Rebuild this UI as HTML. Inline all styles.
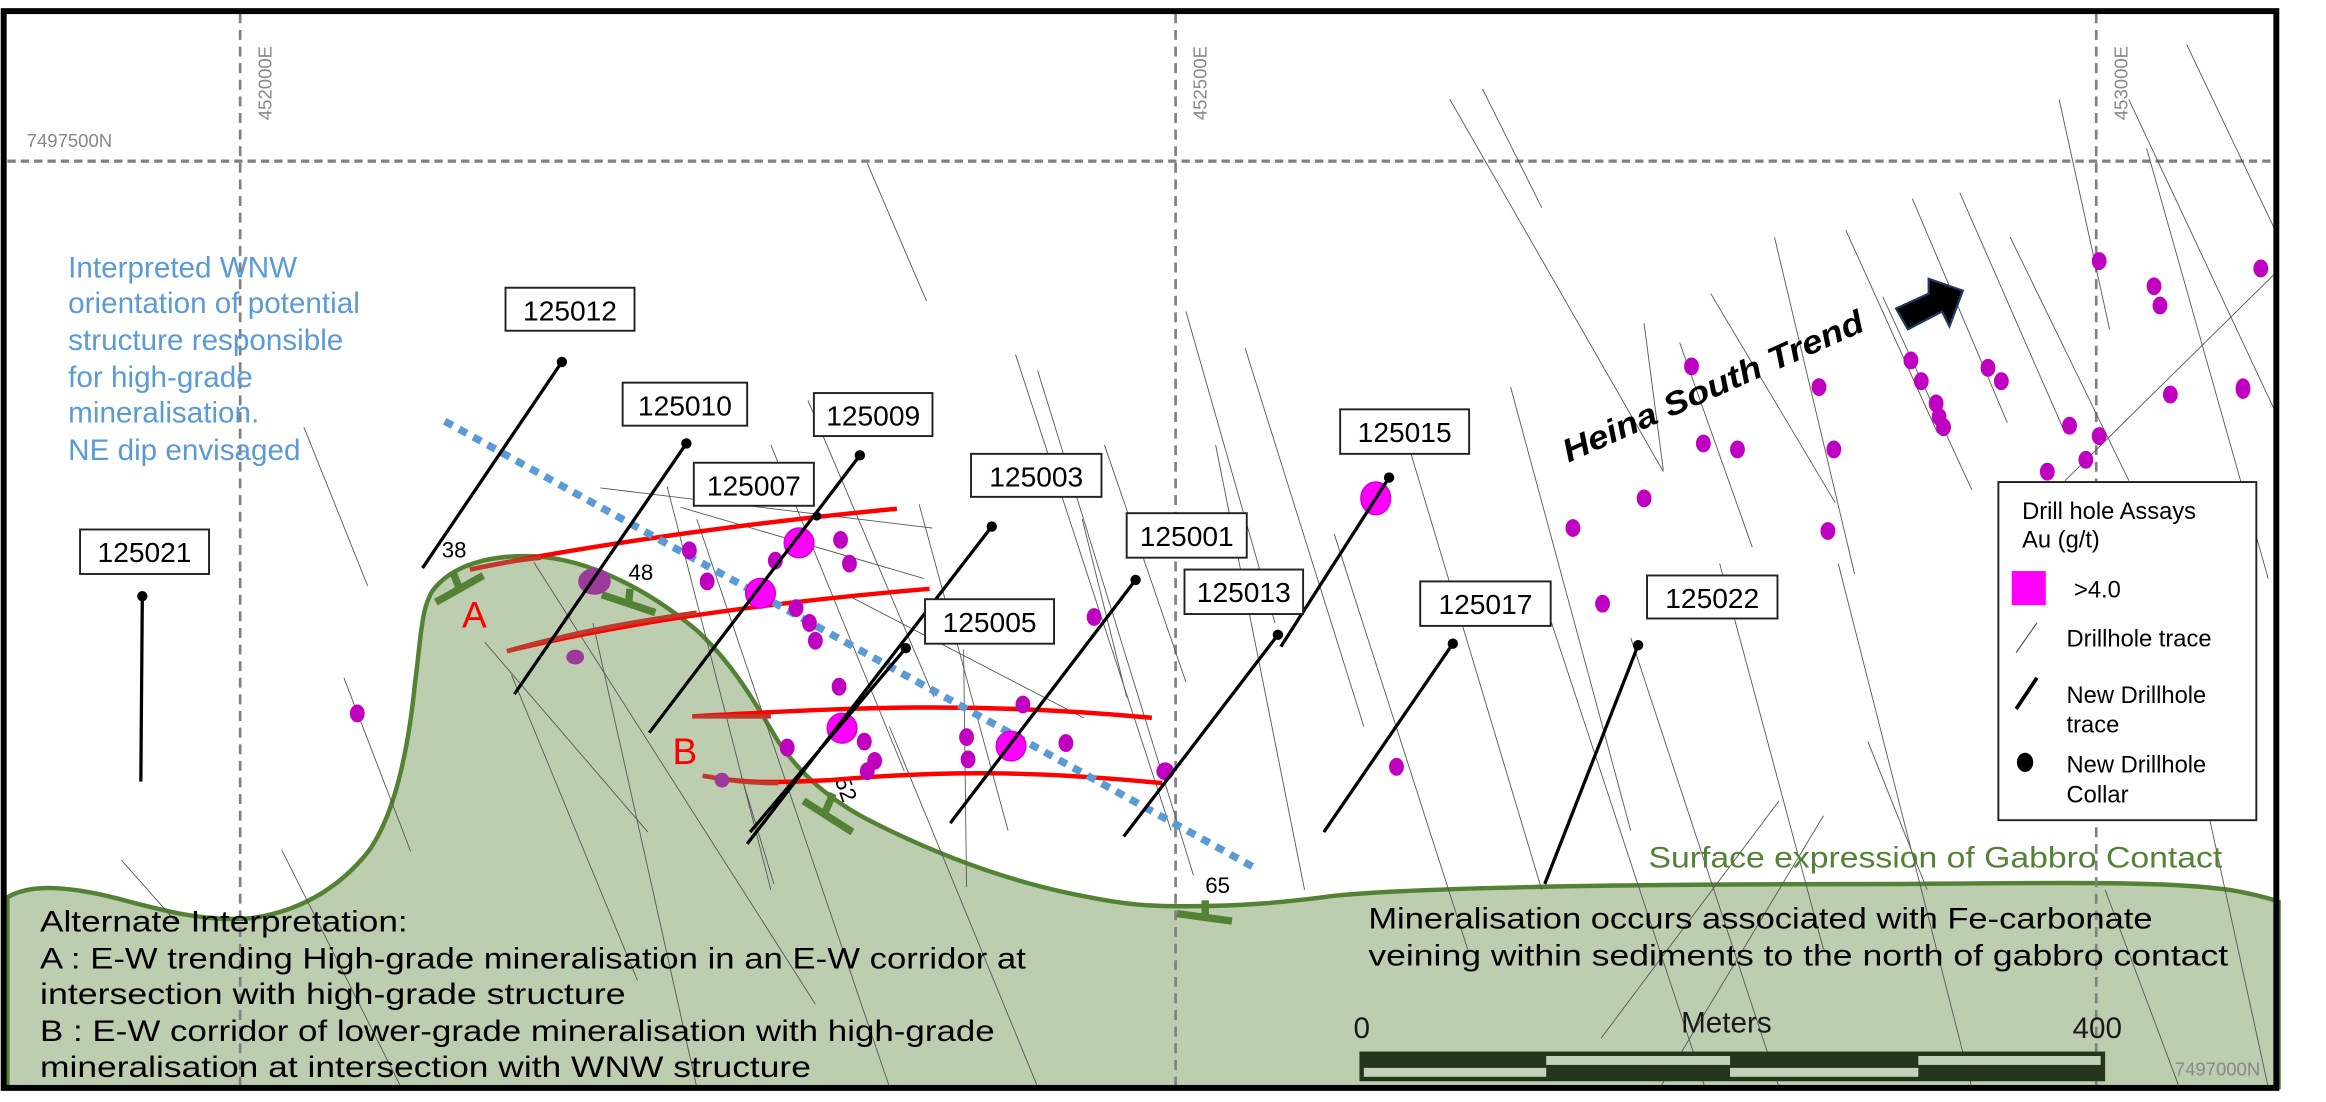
<!DOCTYPE html>
<html><head><meta charset="utf-8"><style>
html,body{margin:0;padding:0;background:#fff;}
svg{display:block;}
text{font-family:"Liberation Sans",sans-serif;}
</style></head><body>
<svg width="2326" height="1102" viewBox="0 0 1569 743" preserveAspectRatio="none" xmlns="http://www.w3.org/2000/svg">
<rect x="0" y="0" width="1569" height="743" fill="#fff"/>
<!-- gabbro -->
<path d="M5,605 C20,596 45,597 80,606 C110,614 140,622 170,619 C205,614 232,596 250,572 C268,545 276,500 280,460 C284,430 284,410 292,398 C305,381 330,374 360,375 C400,377 440,400 470,425 C495,448 510,475 525,500 C540,522 560,540 590,555 C630,575 680,595 735,605 C760,610 775,611 800,611 C840,611 870,608 900,604 C960,598 1100,596 1284,596 C1400,595 1470,594 1510,601 C1525,604 1532,606 1537,608 L1537,733 L5,733 Z" fill="#bccdb0" stroke="#548235" stroke-width="3"/>
<!-- grid -->
<g stroke="#808080" stroke-width="1.8" fill="none">
<line x1="162" y1="9" x2="162" y2="733" stroke-dasharray="6.7 4.5"/>
<line x1="793" y1="9" x2="793" y2="733" stroke-dasharray="6.7 4.5"/>
<line x1="1414" y1="9" x2="1414" y2="733" stroke-dasharray="6.7 4.5"/>
<line x1="5" y1="108.6" x2="1537" y2="108.6" stroke-width="2.2" stroke-dasharray="5.6 3.4"/>
</g>
<g fill="#888" font-size="12.5">
<text x="18" y="99">7497500N</text>
<text transform="translate(183,81) rotate(-90)">452000E</text>
<text transform="translate(814,81) rotate(-90)">452500E</text>
<text transform="translate(1435,81) rotate(-90)">453000E</text>
<text x="1467" y="725">7497000N</text>
</g>
<!-- thin drillhole traces -->
<g stroke="#555" stroke-width="0.6" fill="none">
<line x1="585" y1="110" x2="625" y2="203"/>
<line x1="685" y1="239" x2="790" y2="560"/>
<line x1="700" y1="250" x2="805" y2="590"/>
<line x1="205" y1="288" x2="248" y2="395"/>
<line x1="232" y1="457" x2="277" y2="574"/>
<line x1="327" y1="433" x2="437" y2="561"/>
<line x1="345" y1="455" x2="430" y2="661"/>
<line x1="190" y1="573" x2="270" y2="732"/>
<line x1="82" y1="580" x2="120" y2="623"/>
<line x1="360" y1="379" x2="550" y2="677"/>
<line x1="400" y1="420" x2="470" y2="733"/>
<line x1="500" y1="523" x2="522" y2="596"/>
<line x1="650" y1="438" x2="652" y2="598"/>
<line x1="405" y1="329" x2="629" y2="356"/>
<line x1="459" y1="342" x2="623" y2="390"/>
<line x1="573" y1="402" x2="731" y2="484"/>
<line x1="450" y1="328" x2="520" y2="600"/>
<line x1="520" y1="300" x2="610" y2="520"/>
<line x1="545" y1="270" x2="630" y2="470"/>
<line x1="470" y1="350" x2="600" y2="733"/>
<line x1="600" y1="490" x2="700" y2="733"/>
<line x1="620" y1="340" x2="680" y2="560"/>
<line x1="730" y1="350" x2="760" y2="470"/>
<line x1="745" y1="300" x2="800" y2="460"/>
<line x1="800" y1="210" x2="860" y2="420"/>
<line x1="840" y1="235" x2="920" y2="490"/>
<line x1="978" y1="67" x2="1122" y2="318"/>
<line x1="1019" y1="261" x2="1100" y2="560"/>
<line x1="1109" y1="218" x2="1122" y2="317"/>
<line x1="1133" y1="231" x2="1182" y2="369"/>
<line x1="1154" y1="198" x2="1238" y2="339"/>
<line x1="1197" y1="160" x2="1251" y2="387"/>
<line x1="1245" y1="155" x2="1307" y2="292"/>
<line x1="1290" y1="134" x2="1354" y2="285"/>
<line x1="1322" y1="130" x2="1393" y2="292"/>
<line x1="1356" y1="160" x2="1436" y2="324"/>
<line x1="1389" y1="67" x2="1423" y2="222"/>
<line x1="1436" y1="67" x2="1535" y2="278"/>
<line x1="1448" y1="100" x2="1530" y2="390"/>
<line x1="1475" y1="30" x2="1537" y2="160"/>
<line x1="1270" y1="200" x2="1330" y2="330"/>
<line x1="1393" y1="324" x2="1535" y2="184"/>
<line x1="1000" y1="60" x2="1040" y2="140"/>
<line x1="820" y1="300" x2="880" y2="600"/>
<line x1="900" y1="360" x2="990" y2="640"/>
<line x1="950" y1="300" x2="1040" y2="600"/>
<line x1="1040" y1="400" x2="1150" y2="733"/>
<line x1="1100" y1="430" x2="1200" y2="733"/>
<line x1="1160" y1="380" x2="1230" y2="640"/>
<line x1="1240" y1="380" x2="1330" y2="733"/>
<line x1="1260" y1="500" x2="1300" y2="600"/>
<line x1="1200" y1="540" x2="1080" y2="700"/>
<line x1="1230" y1="550" x2="1120" y2="733"/>
<line x1="1490" y1="550" x2="1530" y2="733"/>
<line x1="1420" y1="600" x2="1470" y2="733"/>
</g>
<!-- green strike/dip ticks -->
<g stroke="#548235" stroke-width="5" fill="none">
<line x1="294" y1="406" x2="326" y2="388"/><line x1="306" y1="387" x2="310" y2="397"/>
<line x1="406" y1="401" x2="442" y2="413"/><line x1="425" y1="397" x2="424" y2="407"/>
<line x1="542" y1="540" x2="575" y2="561"/><line x1="562" y1="535" x2="556" y2="549"/>
<line x1="794" y1="616" x2="831" y2="621"/><line x1="813" y1="607" x2="813" y2="618"/>
</g>
<g font-size="15" fill="#000">
<text x="298" y="376">38</text>
<text x="424" y="391">48</text>
<text transform="translate(563,526) rotate(70)">52</text>
<text x="813" y="602">65</text>
</g>
<!-- red lines -->
<g stroke="#ff0000" stroke-width="3" fill="none">
<path d="M317,384 C380,371 480,355 605,343"/>
<path d="M342,439 C420,420 520,406 627,397"/>
<path d="M467,483 C560,478 650,472 777,484"/>
<path d="M474,523 C500,528 520,528 560,526 C640,519 700,520 784,528"/>
</g>
<g stroke="#c0392b" stroke-width="3" fill="none">
<path d="M317,384 C340,379 355,377 365,376"/>
<path d="M342,439 C380,428 420,420 470,413"/>
<path d="M467,483 L520,483"/>
<path d="M474,523 C500,528 515,528 525,528"/>
</g>
<!-- blue dotted -->
<line x1="300" y1="284" x2="848" y2="586" stroke="#5b9bd5" stroke-width="5" stroke-dasharray="6 5"/>
<!-- magenta dots -->
<g fill="#c000c0">
<ellipse cx="241" cy="481" rx="5" ry="6"/>
<ellipse cx="465" cy="371" rx="5" ry="6"/><ellipse cx="477" cy="392" rx="5" ry="6"/>
<ellipse cx="523" cy="378" rx="5" ry="6"/><ellipse cx="567" cy="364" rx="5" ry="6"/>
<ellipse cx="573" cy="380" rx="5" ry="6"/><ellipse cx="537" cy="410" rx="5" ry="6"/>
<ellipse cx="546" cy="420" rx="5" ry="6"/><ellipse cx="550" cy="432" rx="5" ry="6"/>
<ellipse cx="566" cy="463" rx="5" ry="6"/><ellipse cx="531" cy="504" rx="5" ry="6"/>
<ellipse cx="583" cy="500" rx="5" ry="6"/><ellipse cx="590" cy="513" rx="5" ry="6"/>
<ellipse cx="585" cy="520" rx="5" ry="6"/><ellipse cx="652" cy="497" rx="5" ry="6"/>
<ellipse cx="653" cy="512" rx="5" ry="6"/><ellipse cx="690" cy="475" rx="5" ry="6"/>
<ellipse cx="687" cy="422" rx="5" ry="6"/><ellipse cx="738" cy="416" rx="5" ry="6"/>
<ellipse cx="719" cy="501" rx="5" ry="6"/><ellipse cx="786" cy="520" rx="6" ry="6"/>
<ellipse cx="942" cy="517" rx="5" ry="6"/><ellipse cx="1061" cy="356" rx="5" ry="6"/>
<ellipse cx="1081" cy="407" rx="5" ry="6"/><ellipse cx="1109" cy="336" rx="5" ry="6"/>
<ellipse cx="1141" cy="247" rx="5" ry="6"/><ellipse cx="1149" cy="299" rx="5" ry="6"/>
<ellipse cx="1172" cy="303" rx="5" ry="6"/><ellipse cx="1227" cy="261" rx="5" ry="6"/>
<ellipse cx="1237" cy="303" rx="5" ry="6"/><ellipse cx="1233" cy="358" rx="5" ry="6"/>
<ellipse cx="1289" cy="243" rx="5" ry="6"/><ellipse cx="1296" cy="257" rx="5" ry="6"/>
<ellipse cx="1306" cy="272" rx="5" ry="6"/><ellipse cx="1308" cy="281" rx="5" ry="6"/>
<ellipse cx="1311" cy="288" rx="5" ry="6"/><ellipse cx="1341" cy="248" rx="5" ry="6"/>
<ellipse cx="1350" cy="257" rx="5" ry="6"/><ellipse cx="1416" cy="176" rx="5" ry="6"/>
<ellipse cx="1453" cy="193" rx="5" ry="6"/><ellipse cx="1457" cy="206" rx="5" ry="6"/>
<ellipse cx="1525" cy="181" rx="5" ry="6"/><ellipse cx="1464" cy="266" rx="5" ry="6"/>
<ellipse cx="1513" cy="262" rx="5" ry="7"/><ellipse cx="1396" cy="287" rx="5" ry="6"/>
<ellipse cx="1416" cy="294" rx="5" ry="6"/><ellipse cx="1407" cy="310" rx="5" ry="6"/>
<ellipse cx="1381" cy="318" rx="5" ry="6"/>
</g>
<g fill="#9c3a9c">
<ellipse cx="401" cy="392" rx="11" ry="9"/>
<ellipse cx="388" cy="443" rx="6" ry="5"/>
<ellipse cx="487" cy="526" rx="5" ry="5"/>
</g>
<g fill="#ff00ff" stroke="#d000d0" stroke-width="1">
<ellipse cx="539" cy="366" rx="10" ry="10"/>
<ellipse cx="513" cy="400" rx="10" ry="10"/>
<ellipse cx="568" cy="491" rx="10" ry="10"/>
<ellipse cx="682" cy="503" rx="10" ry="10"/>
<ellipse cx="928" cy="336" rx="10" ry="11"/>
</g>
<!-- new drillholes -->
<g stroke="#000" stroke-width="2.2" fill="none">
<line x1="379" y1="244" x2="285" y2="383"/>
<line x1="463" y1="299" x2="347" y2="468"/>
<line x1="580" y1="307" x2="438" y2="494"/>
<line x1="669" y1="355" x2="504" y2="569"/>
<line x1="611" y1="437" x2="506" y2="561"/>
<line x1="766" y1="391" x2="641" y2="555"/>
<line x1="862" y1="428" x2="758" y2="564"/>
<line x1="937" y1="322" x2="864" y2="436"/>
<line x1="980" y1="434" x2="893" y2="561"/>
<line x1="1105" y1="435" x2="1042" y2="596"/>
<line x1="96" y1="402" x2="95" y2="527"/>
</g>
<g fill="#000">
<circle cx="379" cy="244" r="3.5"/><circle cx="463" cy="299" r="3.5"/><circle cx="580" cy="307" r="3.5"/>
<circle cx="551" cy="348" r="3"/><circle cx="669" cy="355" r="3.5"/><circle cx="611" cy="437" r="3.5"/>
<circle cx="766" cy="391" r="3.5"/><circle cx="862" cy="428" r="3.5"/><circle cx="937" cy="322" r="3.5"/>
<circle cx="980" cy="434" r="3.5"/><circle cx="1105" cy="435" r="3.5"/><circle cx="96" cy="402" r="3.5"/>
</g>
<!-- labels -->
<g fill="#fff" stroke="#222" stroke-width="1.3">
<rect x="341" y="194" width="87" height="29"/>
<rect x="420" y="258" width="84" height="29"/>
<rect x="549" y="265" width="80" height="29"/>
<rect x="468" y="312" width="81" height="29"/>
<rect x="655" y="306" width="88" height="29"/>
<rect x="54" y="357" width="87" height="30"/>
<rect x="624" y="404" width="87" height="30"/>
<rect x="760" y="346" width="81" height="30"/>
<rect x="799" y="384" width="80" height="30"/>
<rect x="958" y="392" width="88" height="30"/>
<rect x="1111" y="388" width="88" height="29"/>
<rect x="904" y="276" width="87" height="30"/>
</g>
<g font-size="19" fill="#000" text-anchor="middle">
<text x="384.5" y="216">125012</text>
<text x="462" y="280">125010</text>
<text x="589" y="287">125009</text>
<text x="508.5" y="334">125007</text>
<text x="699" y="328">125003</text>
<text x="97.5" y="379">125021</text>
<text x="667.5" y="426">125005</text>
<text x="800.5" y="368">125001</text>
<text x="839" y="406">125013</text>
<text x="1002" y="414">125017</text>
<text x="1155" y="410">125022</text>
<text x="947.5" y="298">125015</text>
</g>
<text x="320" y="423" font-size="25" fill="#ff0000" text-anchor="middle">A</text>
<text x="462" y="515" font-size="25" fill="#ff0000" text-anchor="middle">B</text>
<!-- blue text -->
<g font-size="20" fill="#5b9bd5">
<text x="46" y="187">Interpreted WNW</text>
<text x="46" y="211">orientation of potential</text>
<text x="46" y="236">structure responsible</text>
<text x="46" y="261">for high-grade</text>
<text x="46" y="285">mineralisation.</text>
<text x="46" y="310">NE dip envisaged</text>
</g>
<!-- Heina -->
<text transform="translate(1058,312) rotate(-24)" font-size="22" font-weight="bold" font-style="italic" fill="#000" textLength="220" lengthAdjust="spacingAndGlyphs">Heina South Trend</text>
<polygon points="1279,208 1301,198 1301,188 1324,196 1315,220 1310,210 1287,222" fill="#000" stroke="#1f3864" stroke-width="1.5"/>
<!-- legend -->
<rect x="1348" y="325" width="174" height="228" fill="#fff" stroke="#222" stroke-width="1.3"/>
<g font-size="16" fill="#000">
<text x="1364" y="350">Drill hole Assays</text>
<text x="1364" y="369">Au (g/t)</text>
<text x="1399" y="403">&gt;4.0</text>
<text x="1394" y="436">Drillhole trace</text>
<text x="1394" y="474">New Drillhole</text>
<text x="1394" y="494">trace</text>
<text x="1394" y="521">New Drillhole</text>
<text x="1394" y="541">Collar</text>
</g>
<rect x="1357" y="385" width="23" height="23" fill="#ff00ff"/>
<line x1="1360" y1="440" x2="1374" y2="420" stroke="#555" stroke-width="0.8"/>
<line x1="1360" y1="478" x2="1374" y2="457" stroke="#000" stroke-width="2.5"/>
<ellipse cx="1366" cy="514" rx="5.5" ry="6.5" fill="#000"/>
<!-- gabbro texts -->
<text x="1112" y="585" font-size="20" fill="#548235" textLength="387" lengthAdjust="spacingAndGlyphs">Surface expression of Gabbro Contact</text>
<g font-size="20" fill="#000">
<text x="27" y="628" textLength="248" lengthAdjust="spacingAndGlyphs">Alternate Interpretation:</text>
<text x="27" y="653" textLength="665" lengthAdjust="spacingAndGlyphs">A : E-W trending High-grade mineralisation in an E-W corridor at</text>
<text x="27" y="677" textLength="395" lengthAdjust="spacingAndGlyphs">intersection with high-grade structure</text>
<text x="27" y="702" textLength="644" lengthAdjust="spacingAndGlyphs">B : E-W corridor of lower-grade mineralisation with high-grade</text>
<text x="27" y="726" textLength="520" lengthAdjust="spacingAndGlyphs">mineralisation at intersection with WNW structure</text>
<text x="923" y="626" textLength="529" lengthAdjust="spacingAndGlyphs">Mineralisation occurs associated with Fe-carbonate</text>
<text x="923" y="651" textLength="580" lengthAdjust="spacingAndGlyphs">veining within sediments to the north of gabbro contact</text>
</g>
<g font-size="20" fill="#1a1a1a">
<text x="913" y="700">0</text>
<text x="1134" y="696">Meters</text>
<text x="1398" y="700">400</text>
</g>
<!-- scale bar -->
<rect x="917" y="709" width="503" height="20" fill="#24361c"/>
<g fill="#c4d3b8">
<rect x="1043" y="712" width="124" height="6"/>
<rect x="1294" y="712" width="123" height="6"/>
<rect x="920" y="720" width="123" height="6"/>
<rect x="1167" y="720" width="127" height="6"/>
</g>
<!-- frame -->
<rect x="2.5" y="7.5" width="1533" height="726" fill="none" stroke="#000" stroke-width="4"/>
</svg>
</body></html>
